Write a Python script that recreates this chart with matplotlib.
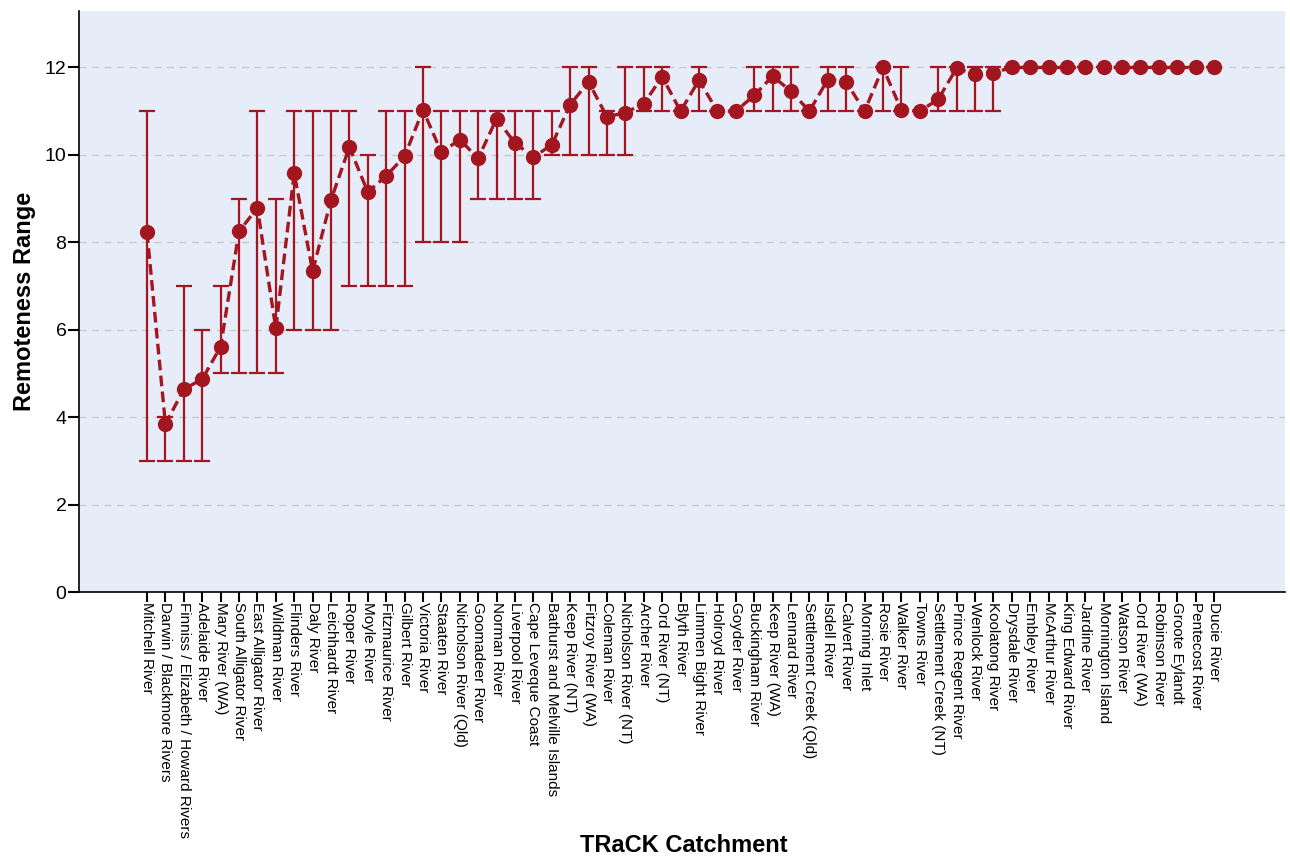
import matplotlib.pyplot as plt
import numpy as np

plt.rcParams['font.family'] = ['Liberation Sans', 'DejaVu Sans']

catchments = [
    'Mitchell River', 'Darwin / Blackmore Rivers', 'Finniss / Elizabeth / Howard Rivers',
    'Adelaide River', 'Mary River (WA)', 'South Alligator River', 'East Alligator River',
    'Wildman River', 'Flinders River', 'Daly River', 'Leichhardt River', 'Roper River',
    'Moyle River', 'Fitzmaurice River', 'Gilbert River', 'Victoria River', 'Staaten River',
    'Nicholson River (Qld)', 'Goomadeer River', 'Norman River', 'Liverpool River',
    'Cape Leveque Coast', 'Bathurst and Melville Islands', 'Keep River (NT)',
    'Fitzroy River (WA)', 'Coleman River', 'Nicholson River (NT)', 'Archer River',
    'Ord River (NT)', 'Blyth River', 'Limmen Bight River', 'Holroyd River', 'Goyder River',
    'Buckingham River', 'Keep River (WA)', 'Lennard River', 'Settlement Creek (Qld)',
    'Isdell River', 'Calvert River', 'Morning Inlet', 'Rosie River', 'Walker River',
    'Towns River', 'Settlement Creek (NT)', 'Prince Regent River', 'Wenlock River',
    'Koolatong River', 'Drysdale River', 'Embley River', 'McArthur River',
    'King Edward River', 'Jardine River', 'Mornington Island', 'Watson River',
    'Ord River (WA)', 'Robinson River', 'Groote Eylandt', 'Pentecost River', 'Ducie River',
]

# mean remoteness per catchment
mean_val = [
    8.23, 3.84, 4.64, 4.87, 5.61, 8.25, 8.79, 6.03, 9.58, 7.34,
    8.97, 10.18, 9.15, 9.52, 9.97, 11.03, 10.06, 10.35, 9.92, 10.83,
    10.27, 9.95, 10.23, 11.15, 11.67, 10.87, 10.97, 11.17, 11.79, 11.0,
    11.71, 11.0, 11.0, 11.36, 11.8, 11.46, 11.0, 11.72, 11.67, 11.0,
    12.0, 11.03, 11.0, 11.27, 11.98, 11.84, 11.88, 12.0, 12.0, 12.0,
    12.0, 12.0, 12.0, 12.0, 12.0, 12.0, 12.0, 12.0, 12.0,
]
# min / max of the range
low_val = [
    3, 3, 3, 3, 5, 5, 5, 5, 6, 6,
    6, 7, 7, 7, 7, 8, 8, 8, 9, 9,
    9, 9, 10, 10, 10, 10, 10, 11, 11, 11,
    11, 11, 11, 11, 11, 11, 11, 11, 11, 11,
    11, 11, 11, 11, 11, 11, 11, 12, 12, 12,
    12, 12, 12, 12, 12, 12, 12, 12, 12,
]
high_val = [
    11, 4, 7, 6, 7, 9, 11, 9, 11, 11,
    11, 11, 10, 11, 11, 12, 11, 11, 11, 11,
    11, 11, 11, 12, 12, 11, 12, 12, 12, 11,
    12, 11, 11, 12, 12, 12, 11, 12, 12, 11,
    12, 12, 11, 12, 12, 12, 12, 12, 12, 12,
    12, 12, 12, 12, 12, 12, 12, 12, 12,
]

red = '#a3161f'
x = np.arange(len(catchments))
mean_val = np.array(mean_val)
yerr = [mean_val - np.array(low_val), np.array(high_val) - mean_val]

fig = plt.figure(figsize=(12.9, 8.6), dpi=100)
ax = fig.add_axes([0.0612, 0.3116, 0.935, 0.676])
ax.set_facecolor('#e6ecf8')

ax.errorbar(x, mean_val, yerr=yerr, fmt='none', ecolor=red, elinewidth=1.6,
            capsize=5.5, capthick=1.6, zorder=3)
ax.plot(x, mean_val, color=red, linestyle='--', linewidth=2.4, dashes=(3.2, 1.6),
        marker='o', markersize=10, zorder=4)

ax.set_xlim(-3.7, len(catchments) - 1 + 3.86)
ax.set_ylim(0, 13.3)
ax.set_yticks(np.arange(0, 13, 2))
ax.yaxis.grid(True, color='#c9c9c9', linestyle=(0, (5, 4)), linewidth=1.0)
ax.set_axisbelow(True)

ax.set_xticks(x)
ax.set_xticklabels(catchments, rotation=270, fontsize=11, va='top', ha='center')
ax.tick_params(axis='x', length=7.5, width=1.5, color='black', pad=0)
ax.tick_params(axis='y', length=8, width=1.5, labelsize=14, pad=1)

for side in ['top', 'right']:
    ax.spines[side].set_visible(False)
for side in ['left', 'bottom']:
    ax.spines[side].set_linewidth(1.2)
    ax.spines[side].set_color('black')

ax.set_ylabel('Remoteness Range', fontsize=17, fontweight='bold', labelpad=6)
fig.text(0.53, 0.003, 'TRaCK Catchment', fontsize=17, fontweight='bold',
         ha='center', va='bottom')

fig.savefig('out.png', dpi=100)
